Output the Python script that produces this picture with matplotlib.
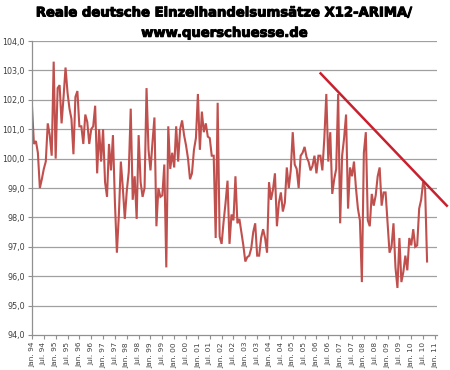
import matplotlib
matplotlib.use('Agg')
import matplotlib.pyplot as plt
import matplotlib.patheffects as pe

# Monthly values Jan. 94 .. Sep. 10
values = [
    101.8, 100.5, 100.6, 100.2, 99.0, 99.3, 99.65, 99.9, 101.2, 100.8,
    100.1, 103.3, 100.0, 102.4, 102.5, 101.2, 102.1, 103.1, 102.25, 101.7,
    101.35, 100.15, 102.1, 102.3, 101.1, 101.1, 100.5, 101.5, 101.25, 100.5,
    101.0, 101.1, 101.8, 99.5, 101.0, 99.9, 101.0, 99.2, 98.7, 100.5,
    99.6, 100.8, 98.5, 96.8, 98.1, 99.9, 99.0, 97.95, 98.9, 99.55,
    101.7, 98.6, 99.4, 97.95, 100.8, 99.2, 98.7, 99.0, 102.4, 100.3,
    99.6, 100.55, 101.4, 97.7, 99.0, 98.7, 98.75, 99.8, 96.3, 101.1,
    99.65, 100.2, 99.7, 101.1, 99.9, 101.0, 101.3, 100.8, 100.45, 100.0,
    99.3, 99.5, 100.3, 100.7, 102.2, 100.3, 101.6, 100.9, 101.2, 100.75,
    100.7, 100.1, 100.1, 97.3, 101.9, 97.35, 97.1, 97.85, 98.5, 99.25,
    97.1, 98.1, 97.9, 99.4, 97.8, 97.95, 97.5, 97.05, 96.5, 96.65,
    96.7, 96.95, 97.5, 97.8, 96.7, 96.7, 97.3, 97.6, 97.3, 96.8,
    99.2, 98.6, 98.95, 99.5, 97.7, 98.5, 98.85, 98.2, 98.5, 99.7,
    99.0, 99.6, 100.9, 99.8, 99.65, 99.0, 100.1, 100.2, 100.4, 100.05,
    99.9, 99.6, 99.75, 100.1, 99.5, 100.1, 100.1, 99.6, 100.7, 102.2,
    99.9, 100.9, 98.8, 99.3, 99.65, 102.2, 97.8, 100.1, 100.7, 101.5,
    98.3, 99.7, 99.4, 99.9, 99.0, 98.3, 97.9, 95.8, 100.2, 100.9,
    97.9, 97.7, 98.8, 98.4, 98.75, 99.4, 99.7, 98.4, 98.85, 98.85,
    97.8, 96.8, 97.0, 97.8, 96.3, 95.6, 97.3, 95.8, 96.15, 96.7,
    96.2, 97.3, 97.05, 97.6, 97.0, 97.05, 98.3, 98.6, 99.2, 99.0,
    96.5,
]

# hand drawn trend line (month index, value)
trend_x = [146.1, 210.0]
trend_y = [102.9, 98.4]

years = ['94', '95', '96', '97', '98', '99', '00', '01', '02', '03',
         '04', '05', '06', '07', '08', '09', '10', '11']
tick_labels = []
for y in years:
    tick_labels.append('Jan. ' + y)
    if y != '11':
        tick_labels.append('Jul. ' + y)

y_ticks = [94, 95, 96, 97, 98, 99, 100, 101, 102, 103, 104]

fig = plt.figure(figsize=(4.5, 3.7), dpi=100)
ax = fig.add_axes([0.071, 0.0946, 0.9, 0.7944])

months = list(range(len(values)))
ax.plot(months, values, color='#c0504d', lw=1.5, solid_joinstyle='miter')
ax.plot(trend_x, trend_y, color='#c8202e', lw=1.8, clip_on=False)

ax.set_xlim(0, 205)
ax.set_ylim(94, 104)

ax.set_yticks(y_ticks)
ax.set_yticklabels([('%.1f' % v).replace('.', ',') for v in y_ticks],
                   fontsize=5.8, color='#404040')
ax.set_xticks([6 * i for i in range(len(tick_labels))])
ax.set_xticklabels(tick_labels, rotation=90, fontsize=5.3, color='#404040')

for v in y_ticks[1:]:
    ax.axhline(v, color='#a0a0a0', lw=0.9, zorder=0)

for s in ['top', 'right']:
    ax.spines[s].set_visible(False)
for s in ['left', 'bottom']:
    ax.spines[s].set_color('#909090')
    ax.spines[s].set_linewidth(0.9)
ax.tick_params(axis='both', length=3, width=0.8, color='#909090', pad=2)

# heavier title, like Arial Black
heavy = [pe.withStroke(linewidth=0.7, foreground='black')]
fig.text(0.5, 0.965, 'Reale deutsche Einzelhandelsumsätze X12-ARIMA/',
         ha='center', va='center', fontsize=9.5, fontweight='bold',
         path_effects=heavy)
fig.text(0.5, 0.91, 'www.querschuesse.de',
         ha='center', va='center', fontsize=9.5, fontweight='bold',
         path_effects=heavy)

fig.savefig('out.png', dpi=100)
